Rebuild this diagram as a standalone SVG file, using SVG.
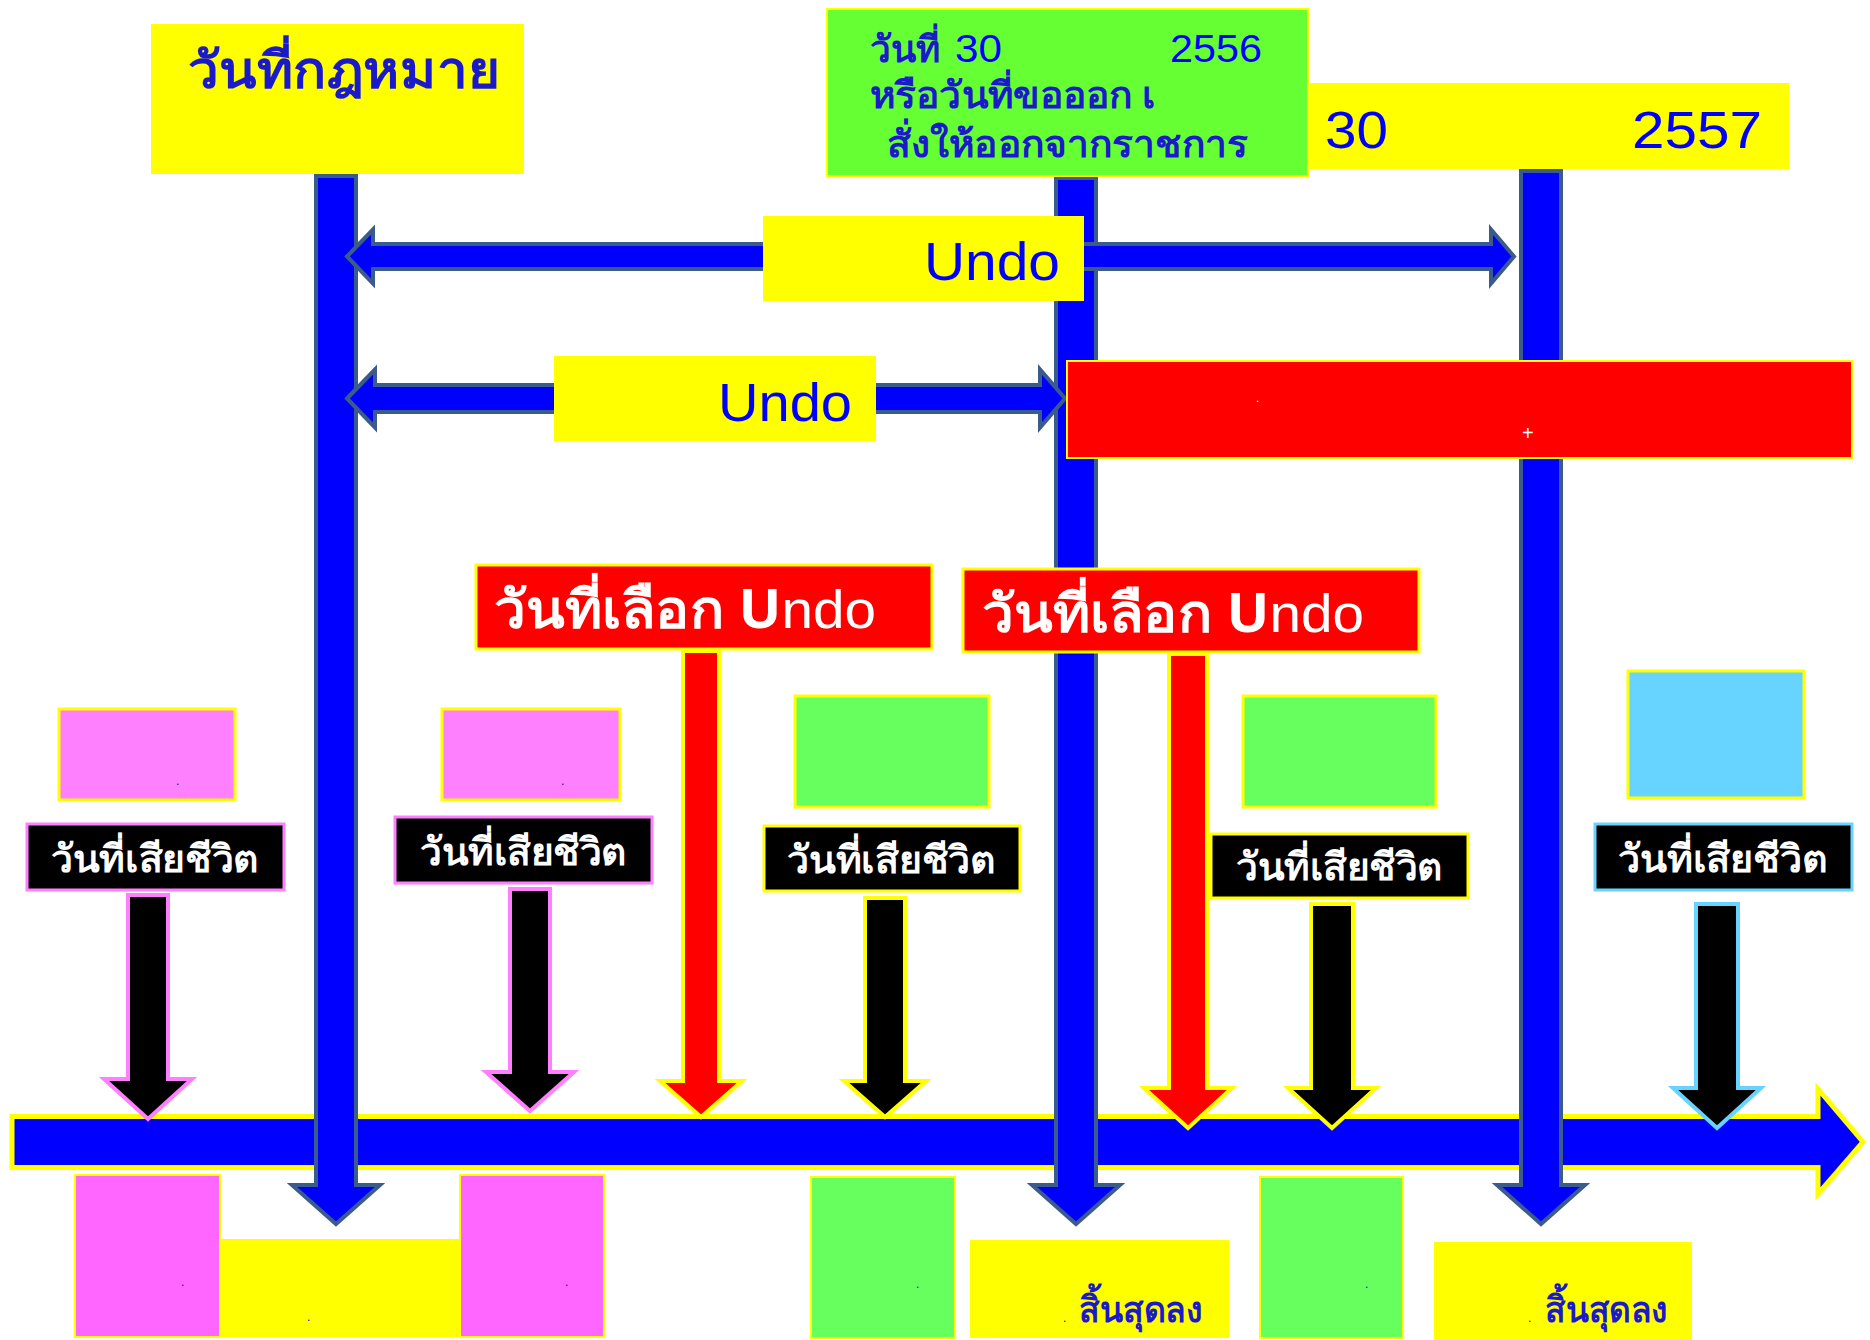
<svg xmlns="http://www.w3.org/2000/svg" width="1870" height="1340" viewBox="0 0 1870 1340">
<style>
.y{fill:#FFFF00}
.bar{fill:#0000FF;stroke:#FFFF00;stroke-width:5}
.barr{fill:#0000FF;stroke:#3B5B8C;stroke-width:4}
.th{font-family:"Noto Sans",sans-serif;font-weight:bold}
.lat{font-family:"Liberation Sans",Arial,sans-serif}
.bl{fill:#1A1ACC}
.lab{fill:#000;stroke-width:3}
.labt{font-family:"Noto Sans",sans-serif;font-weight:bold;font-size:38px;fill:#FFFFFF}
.dot{font-family:"Liberation Sans",Arial,sans-serif;font-size:12px;fill:#0000FF}
</style>
<rect width="1870" height="1340" fill="#FFFFFF"/>
<g id="connectors">
<path id="timeline" class="bar" d="M12,1116.5 L1818,1116.5 L1818,1089 L1863,1142 L1818,1194 L1818,1167.5 L12,1167.5 Z"/>
<path id="v-left" class="barr" d="M316,176 L356,176 L356,1185 L380,1185 L336,1224 L292,1185 L316,1185 Z"/>
<path id="v-mid" class="barr" d="M1056,178 L1096,178 L1096,1185 L1120,1185 L1076,1224 L1032,1185 L1056,1185 Z"/>
<path id="v-right" class="barr" d="M1521,171 L1561,171 L1561,1185 L1585,1185 L1541,1224 L1497,1185 L1521,1185 Z"/>
<path id="h-upper" class="barr" d="M347,256.5 L373,229.5 L373,244 L1491,244 L1491,229.5 L1514,256.5 L1491,283.5 L1491,269 L373,269 L373,283.5 Z"/>
<path id="h-lower" class="barr" d="M347,398.5 L375,369.5 L375,385 L1040,385 L1040,369.5 L1065,398.5 L1040,427.5 L1040,412 L375,412 L375,427.5 Z"/>
</g>
<g id="n-undo1"><rect class="y" x="763" y="216" width="321" height="85"/><text class="lat" x="924" y="280" font-size="54" fill="#0000FF" textLength="136" lengthAdjust="spacingAndGlyphs">Undo</text></g>
<g id="n-undo2"><rect class="y" x="554" y="356" width="322" height="85"/><text class="lat" x="718" y="421" font-size="54" fill="#0000FF" textLength="134" lengthAdjust="spacingAndGlyphs">Undo</text></g>
<g id="n-period"><rect x="1067" y="361" width="785" height="97" fill="#FF0000" stroke="#FFFF00" stroke-width="2"/><text class="lat" x="1256" y="402" font-size="12" fill="#FFFFFF">.</text><text class="lat" x="1522" y="440" font-size="20" fill="#FFFFFF">+</text></g>
<g id="n-law"><rect class="y" x="151" y="24" width="373" height="150"/><text class="th bl" x="188" y="88" font-size="51" textLength="312" lengthAdjust="spacingAndGlyphs">วันที่กฎหมาย</text></g>
<g id="n-2557"><rect class="y" x="1307" y="83" width="482" height="86"/><text class="lat" x="1325" y="148" font-size="52" fill="#0000FF" textLength="63" lengthAdjust="spacingAndGlyphs">30</text><text class="lat" x="1632" y="148" font-size="52" fill="#0000FF" textLength="130" lengthAdjust="spacingAndGlyphs">2557</text></g>
<g id="n-2556"><rect x="827" y="9" width="481" height="167" fill="#66FF33" stroke="#FFFF00" stroke-width="2"/>
<text class="th bl" x="870" y="62" font-size="37">วันที่</text>
<text class="lat" x="955" y="62" font-size="38" fill="#0000FF" textLength="47" lengthAdjust="spacingAndGlyphs">30</text>
<text class="lat" x="1170" y="62" font-size="38" fill="#0000FF" textLength="92" lengthAdjust="spacingAndGlyphs">2556</text>
<text class="th bl" x="870" y="108" font-size="37" textLength="286" lengthAdjust="spacingAndGlyphs">หรือวันที่ขอออก เ</text>
<text class="th bl" x="887" y="157" font-size="37" textLength="361" lengthAdjust="spacingAndGlyphs">สั่งให้ออกจากราชการ</text></g>
<g id="n-choose1"><rect x="476" y="565" width="456" height="84" fill="#FF0000" stroke="#FFFF00" stroke-width="3"/><text x="494" y="628" font-size="53" fill="#FFFFFF" textLength="382" lengthAdjust="spacingAndGlyphs"><tspan class="th">วันที่เลือก U</tspan><tspan class="lat">ndo</tspan></text></g>
<g id="n-choose2"><rect x="963" y="569" width="456" height="83" fill="#FF0000" stroke="#FFFF00" stroke-width="3"/><text x="982" y="632" font-size="53" fill="#FFFFFF" textLength="382" lengthAdjust="spacingAndGlyphs"><tspan class="th">วันที่เลือก U</tspan><tspan class="lat">ndo</tspan></text></g>
<g id="arrows-small">
<path fill="#000" stroke="#FF80FF" stroke-width="4" d="M128,895 L168,895 L168,1079 L192,1079 L148,1119 L104,1079 L128,1079 Z"/>
<path fill="#000" stroke="#FF80FF" stroke-width="4" d="M510,889 L550,889 L550,1072 L574,1072 L530,1111 L486,1072 L510,1072 Z"/>
<path fill="#FF0000" stroke="#FFFF00" stroke-width="4" d="M683,651 L719,651 L719,1081 L742,1081 L701,1117 L660,1081 L683,1081 Z"/>
<path fill="#000" stroke="#FFFF00" stroke-width="4" d="M865,898 L905,898 L905,1081 L926,1081 L885,1117 L844,1081 L865,1081 Z"/>
<path fill="#FF0000" stroke="#FFFF00" stroke-width="4" d="M1169,654 L1207,654 L1207,1088 L1232,1088 L1188,1128 L1144,1088 L1169,1088 Z"/>
<path fill="#000" stroke="#FFFF00" stroke-width="4" d="M1311,904 L1353,904 L1353,1088 L1376,1088 L1332,1128 L1288,1088 L1311,1088 Z"/>
<path fill="#000" stroke="#66D4FF" stroke-width="4" d="M1696,904 L1738,904 L1738,1088 L1761,1088 L1717,1128 L1673,1088 L1696,1088 Z"/>
</g>
<g id="n-pink1"><rect x="59" y="709" width="176" height="91" fill="#FF80FF" stroke="#FFFF00" stroke-width="3"/><text class="dot" x="176" y="785">.</text></g>
<g id="n-pink2"><rect x="442" y="709" width="178" height="91" fill="#FF80FF" stroke="#FFFF00" stroke-width="3"/><text class="dot" x="561" y="785">.</text></g>
<g id="n-green1"><rect x="795" y="696" width="194" height="111" fill="#66FF5E" stroke="#FFFF00" stroke-width="3"/></g>
<g id="n-green2"><rect x="1243" y="696" width="193" height="111" fill="#66FF5E" stroke="#FFFF00" stroke-width="3"/></g>
<g id="n-cyan"><rect x="1628" y="671" width="176" height="127" fill="#66D4FF" stroke="#FFFF00" stroke-width="3"/></g>
<g id="n-death1"><rect class="lab" x="27" y="824" width="257" height="66" stroke="#FF80FF"/><text class="labt" x="51" y="872" textLength="208" lengthAdjust="spacingAndGlyphs">วันที่เสียชีวิต</text></g>
<g id="n-death2"><rect class="lab" x="395" y="817" width="257" height="66" stroke="#FF80FF"/><text class="labt" x="420" y="865" textLength="207" lengthAdjust="spacingAndGlyphs">วันที่เสียชีวิต</text></g>
<g id="n-death3"><rect class="lab" x="764" y="826" width="256" height="65" stroke="#FFFF00"/><text class="labt" x="787" y="873" textLength="209" lengthAdjust="spacingAndGlyphs">วันที่เสียชีวิต</text></g>
<g id="n-death4"><rect class="lab" x="1211" y="834" width="257" height="64" stroke="#FFFF00"/><text class="labt" x="1236" y="880" textLength="207" lengthAdjust="spacingAndGlyphs">วันที่เสียชีวิต</text></g>
<g id="n-death5"><rect class="lab" x="1595" y="824" width="257" height="66" stroke="#66D4FF"/><text class="labt" x="1618" y="872" textLength="210" lengthAdjust="spacingAndGlyphs">วันที่เสียชีวิต</text></g>
<g id="n-bpink1"><rect x="75" y="1175" width="145" height="162" fill="#FF66FF" stroke="#FFFF00" stroke-width="2"/><text class="dot" x="181" y="1286">.</text></g>
<g id="n-byellow1"><rect class="y" x="220" y="1239" width="240" height="98"/><text class="dot" x="307" y="1321">.</text></g>
<g id="n-bpink2"><rect x="460" y="1175" width="144" height="162" fill="#FF66FF" stroke="#FFFF00" stroke-width="2"/><text class="dot" x="565" y="1286">.</text></g>
<g id="n-bgreen1"><rect x="811" y="1177" width="144" height="161" fill="#66FF5E" stroke="#FFFF00" stroke-width="2"/><text class="dot" x="916" y="1288">.</text></g>
<g id="n-byellow2"><rect class="y" x="970" y="1240" width="259" height="98"/><text class="dot" x="1063" y="1322">.</text><text class="th bl" x="1079" y="1322" font-size="36" textLength="124" lengthAdjust="spacingAndGlyphs">สิ้นสุดลง</text></g>
<g id="n-bgreen2"><rect x="1260" y="1177" width="143" height="161" fill="#66FF5E" stroke="#FFFF00" stroke-width="2"/><text class="dot" x="1365" y="1288">.</text></g>
<g id="n-byellow3"><rect class="y" x="1434" y="1242" width="258" height="98"/><text class="dot" x="1528" y="1322">.</text><text class="th bl" x="1545" y="1322" font-size="36" textLength="123" lengthAdjust="spacingAndGlyphs">สิ้นสุดลง</text></g>
</svg>
